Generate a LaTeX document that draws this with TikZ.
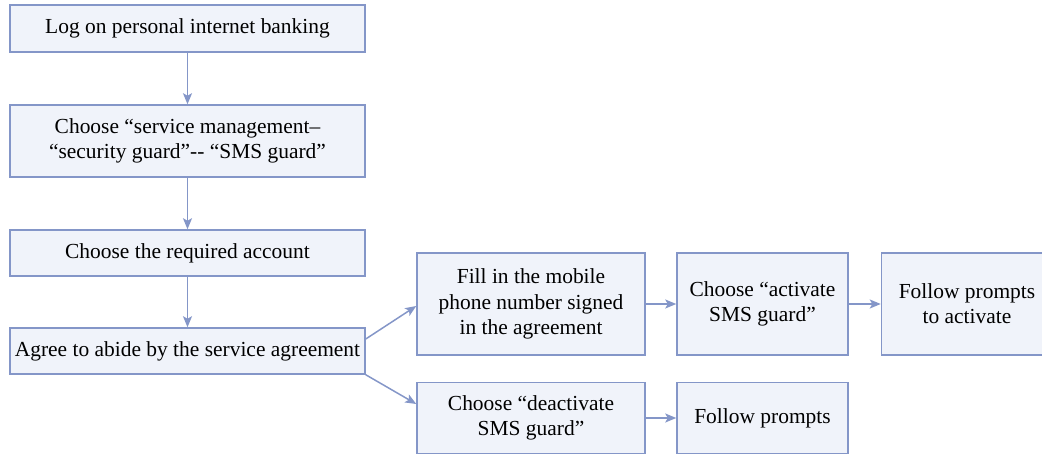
\documentclass[tikz,border=0pt]{standalone}
\usepackage{fontspec}
\setmainfont{Liberation Serif}
\usetikzlibrary{arrows.meta, positioning}

\definecolor{boxline}{HTML}{8496C8}
\definecolor{boxfill}{HTML}{F0F3FA}

\begin{document}
\begin{tikzpicture}[
  stepbox/.style={draw=boxline, fill=boxfill, line width=0.85pt,
                  align=center, inner sep=0pt,
                  font=\fontsize{12.2}{14.4}\selectfont},
  flow/.style={draw=boxline, line width=0.85pt,
               -{Stealth[length=2.2mm, width=1.8mm, inset=0.5mm]}},
]

\useasboundingbox (0,0) rectangle (20.84,-9.1);

\def\colA{3.75}   % x of main column
\def\colB{10.62}  % x of branch column
\def\colC{15.25}  % x of third column
\def\colD{19.34}  % x of last column

% --- Main column ---
\node[stepbox, minimum width=7.1cm, minimum height=0.94cm] (login)
  at (\colA,-0.57) {Log on personal internet banking};
\node[stepbox, minimum width=7.1cm, minimum height=1.44cm] (menu)
  at (\colA,-2.82) {Choose “service management–\\“security guard”-{}- “SMS guard”};
\node[stepbox, minimum width=7.1cm, minimum height=0.92cm] (account)
  at (\colA,-5.06) {Choose the required account};
\node[stepbox, minimum width=7.1cm, minimum height=0.92cm] (agree)
  at (\colA,-7.02) {Agree to abide by the service agreement};

% --- Activate branch ---
\node[stepbox, minimum width=4.56cm, minimum height=2.04cm] (phone)
  at (\colB,-6.08) {Fill in the mobile\\phone number signed\\in the agreement};
\node[stepbox, minimum width=3.42cm, minimum height=2.04cm] (activate)
  at (\colC,-6.08) {Choose “activate\\SMS guard”};
\node[stepbox, minimum width=3.42cm, minimum height=2.04cm] (promptsA)
  at (\colD,-6.08) {Follow prompts\\to activate};

% --- Deactivate branch ---
\node[stepbox, minimum width=4.56cm, minimum height=1.42cm] (deactivate)
  at (\colB,-8.36) {Choose “deactivate\\SMS guard”};
\node[stepbox, minimum width=3.42cm, minimum height=1.42cm] (promptsD)
  at (\colC,-8.36) {Follow prompts};

% --- Connections ---
\draw[flow] (login) -- (menu);
\draw[flow] (menu) -- (account);
\draw[flow] (account) -- (agree);
\draw[flow] ([yshift=0.24cm]agree.east) -- ([yshift=-0.04cm]phone.west);
\draw[flow] (agree.south east) -- ([yshift=0.28cm]deactivate.west);
\draw[flow] (phone) -- (activate);
\draw[flow] (activate) -- (promptsA);
\draw[flow] (deactivate) -- (promptsD);

\end{tikzpicture}
\end{document}
